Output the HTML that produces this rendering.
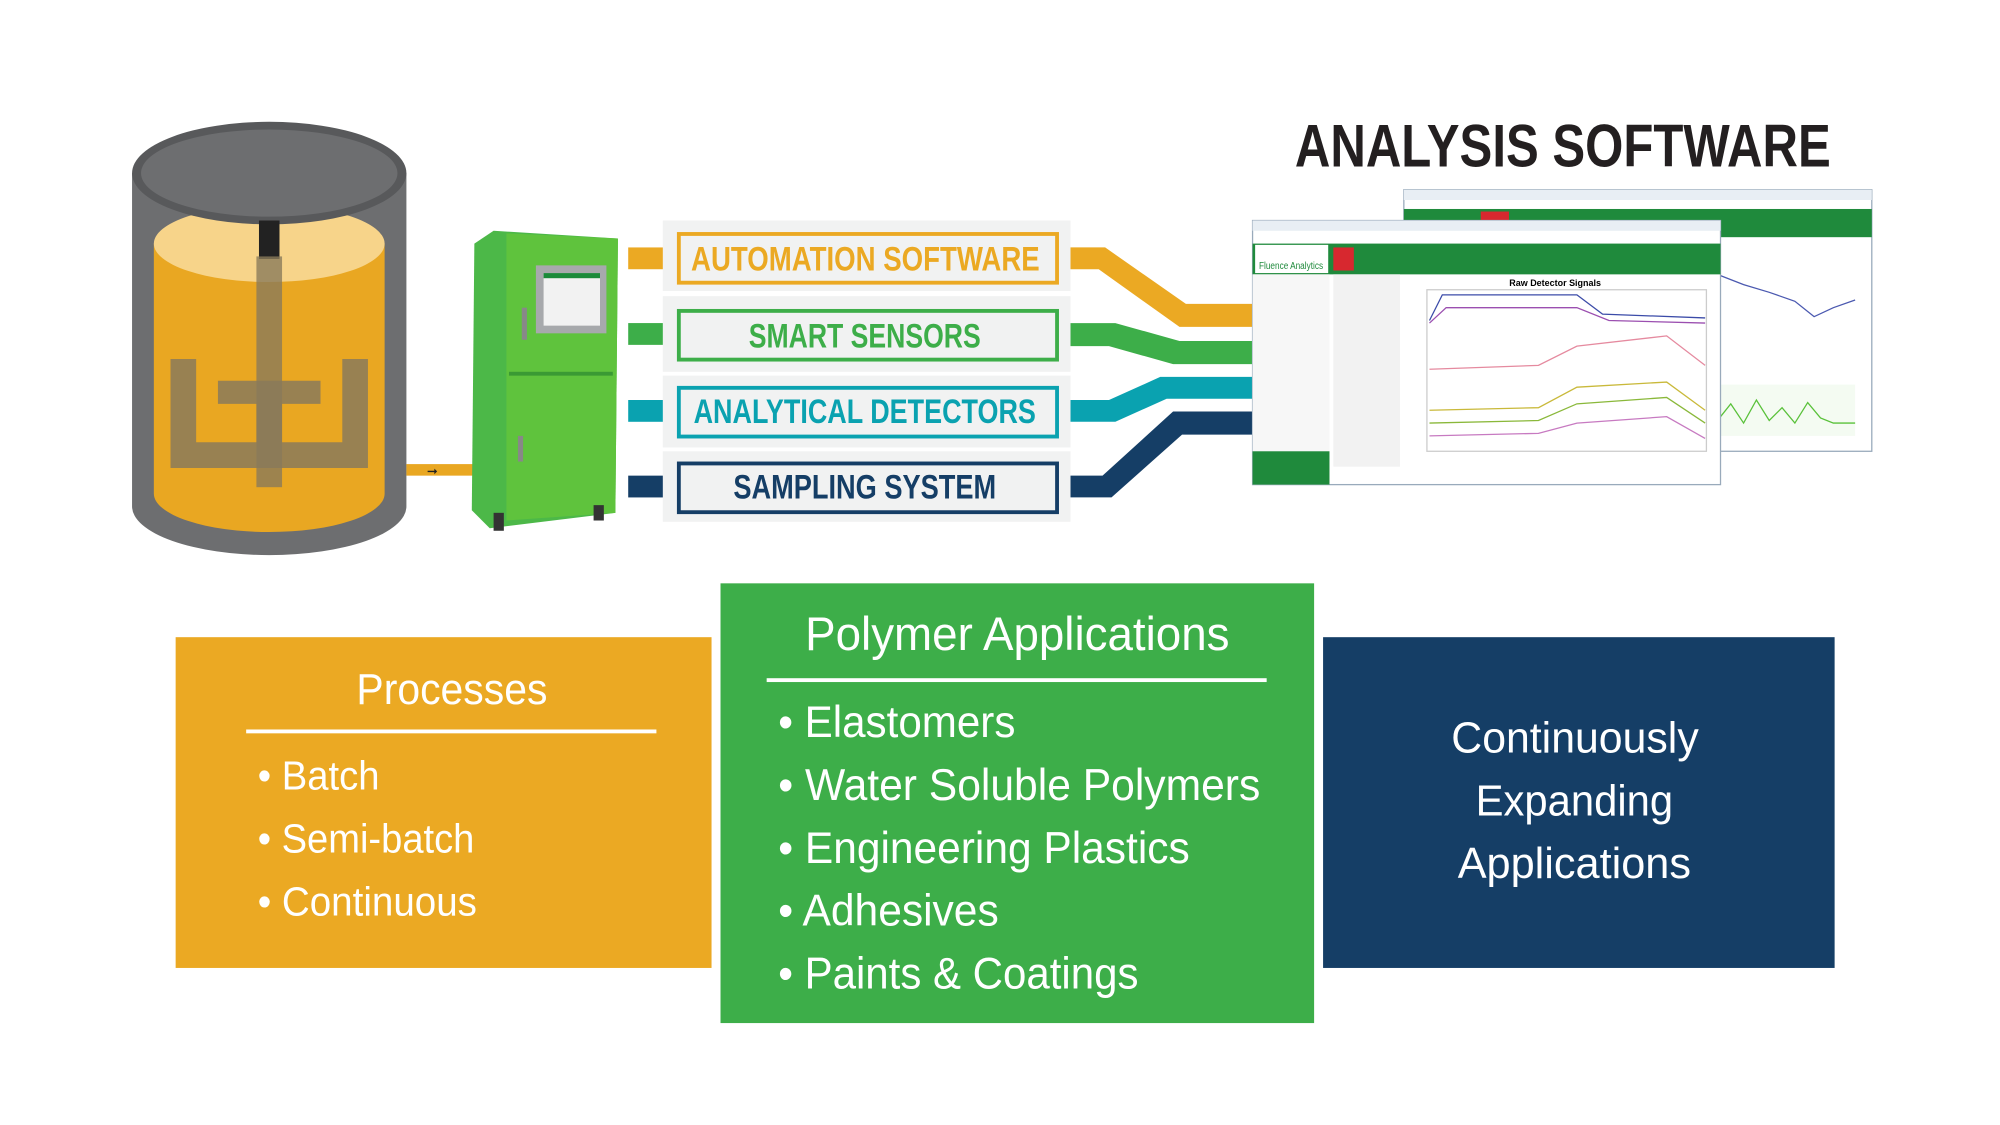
<!DOCTYPE html>
<html><head><meta charset="utf-8"><style>
html,body{margin:0;padding:0;background:#fff;}
svg{display:block;}
text{font-family:"Liberation Sans Narrow","Liberation Sans",sans-serif;}
</style></head><body>
<svg width="2000" height="1125" viewBox="0 0 1560 877.5" xmlns="http://www.w3.org/2000/svg">
<rect width="1560" height="877.5" fill="#fff"/>
<!-- Tank -->
<path d="M103,135 L103,395 A107,38 0 0 0 317,395 L317,135 Z" fill="#6d6e70"/>
<path d="M120,190 L120,385 A90,30 0 0 0 300,385 L300,190 Z" fill="#e9a722"/>
<ellipse cx="210" cy="190" rx="90" ry="30" fill="#f7d48a"/>
<ellipse cx="210" cy="135" rx="107" ry="40" fill="#58595b"/>
<ellipse cx="210" cy="135" rx="100" ry="34" fill="#6d6e70"/>
<rect x="202" y="172" width="16" height="30" fill="#222"/>
<rect x="200" y="200" width="20" height="180" fill="#8a7a5a" opacity="0.8"/>
<path d="M133,280 h20 v65 h47 v-30 h-30 v-18 h80 v18 h-30 v30 h47 v-65 h20 v85 h-154 z" fill="#8a7a5a" opacity="0.85"/>
<rect x="317" y="362" width="52" height="9" fill="#e9a722"/>
<text x="333" y="371" font-size="10" fill="#222">➞</text>
<!-- Cabinet -->
<path d="M370,190 L385,180 L482,186 L480,400 L382,412 L368,398 Z" fill="#4cb848"/>
<path d="M395,182 L482,186 L480,400 L395,406 Z" fill="#5fc33d"/>
<rect x="397" y="290" width="81" height="3" fill="#3a9a34"/>
<rect x="418" y="207" width="55" height="53" fill="#a7a9ac"/>
<rect x="424" y="213" width="44" height="41" fill="#f2f2f2"/>
<rect x="424" y="213" width="44" height="4" fill="#1b8a3a"/>
<rect x="407" y="240" width="4" height="25" fill="#888"/>
<rect x="404" y="340" width="4" height="20" fill="#888"/>
<rect x="385" y="400" width="8" height="14" fill="#333"/>
<rect x="463" y="394" width="8" height="12" fill="#333"/>
<!-- label panel -->
<rect x="517" y="172" width="318" height="55" fill="#f1f2f2"/>
<rect x="517" y="231" width="318" height="59" fill="#f1f2f2"/>
<rect x="517" y="293" width="318" height="56" fill="#f1f2f2"/>
<rect x="517" y="352" width="318" height="55" fill="#f1f2f2"/>
<rect x="490" y="193" width="27" height="17" fill="#eba923"/>
<rect x="490" y="252" width="27" height="17" fill="#3dae49"/>
<rect x="490" y="312" width="27" height="17" fill="#0aa2b0"/>
<rect x="490" y="371" width="27" height="17" fill="#153e66"/>
<rect x="529.5" y="182.5" width="295" height="38" fill="none" stroke="#eba923" stroke-width="3"/>
<rect x="529.5" y="242.5" width="295" height="38" fill="none" stroke="#3dae49" stroke-width="3"/>
<rect x="529.5" y="302.5" width="295" height="38" fill="none" stroke="#0aa2b0" stroke-width="3"/>
<rect x="529.5" y="361.5" width="295" height="38" fill="none" stroke="#153e66" stroke-width="3"/>
<g font-size="27" font-weight="bold">
<text x="539" y="211" fill="#eba923" textLength="272" lengthAdjust="spacingAndGlyphs">AUTOMATION SOFTWARE</text>
<text x="584" y="271" fill="#3dae49" textLength="181" lengthAdjust="spacingAndGlyphs">SMART SENSORS</text>
<text x="541" y="330" fill="#0aa2b0" textLength="267" lengthAdjust="spacingAndGlyphs">ANALYTICAL DETECTORS</text>
<text x="572" y="389" fill="#153e66" textLength="205" lengthAdjust="spacingAndGlyphs">SAMPLING SYSTEM</text>
</g>
<!-- connectors -->
<path d="M835,193 L862,193 L925,237 L985,237 L985,255 L920,255 L857,210 L835,210 Z" fill="#eba923"/>
<path d="M835,252 L870,252 L920,266 L985,266 L985,284 L915,284 L865,270 L835,270 Z" fill="#3dae49"/>
<path d="M835,312 L865,312 L905,294 L985,294 L985,311 L910,311 L870,329 L835,329 Z" fill="#0aa2b0"/>
<path d="M835,371 L860,371 L915,321 L985,321 L985,339 L922,339 L867,388 L835,388 Z" fill="#153e66"/>
<!-- title -->
<text x="1010" y="130" font-size="47" font-weight="bold" fill="#231f20" textLength="418" lengthAdjust="spacingAndGlyphs">ANALYSIS SOFTWARE</text>
<!-- software back -->
<rect x="1095" y="148" width="365" height="204" fill="#fff" stroke="#9ab" stroke-width="1"/>
<rect x="1095" y="148" width="365" height="8" fill="#e8eef4"/>
<rect x="1095" y="163" width="365" height="22" fill="#1f8a3c"/>
<rect x="1155" y="165" width="22" height="18" fill="#d7282f"/>
<rect x="1342" y="215" width="108" height="40" fill="#fff"/>
<path d="M1342,215 L1360,222 L1380,228 L1400,235 L1415,247 L1430,240 L1447,234" stroke="#4b59b0" fill="none"/>
<rect x="1342" y="300" width="105" height="40" fill="#f4fbf2"/>
<path d="M1342,325 L1350,315 L1360,330 L1370,312 L1380,328 L1390,318 L1400,330 L1410,314 L1420,326 L1430,330 L1447,330" stroke="#59c13a" fill="none"/>
<!-- software front -->
<rect x="977" y="172" width="365" height="206" fill="#fff" stroke="#9ab" stroke-width="1"/>
<rect x="977" y="172" width="365" height="8" fill="#e8eef4"/>
<rect x="977" y="190" width="365" height="24" fill="#1f8a3c"/>
<rect x="979" y="191" width="57" height="22" fill="#fff"/>
<text x="982" y="210" font-size="8" fill="#1f8a3c" textLength="50" lengthAdjust="spacingAndGlyphs">Fluence Analytics</text>
<rect x="1040" y="193" width="16" height="18" fill="#d7282f"/>
<rect x="977" y="214" width="60" height="164" fill="#f7f7f7"/>
<rect x="977" y="352" width="60" height="26" fill="#1f8a3c"/>
<rect x="1040" y="214" width="52" height="150" fill="#f2f2f2"/>
<text x="1213" y="223" font-size="7" font-weight="bold" text-anchor="middle" fill="#000">Raw Detector Signals</text>
<rect x="1113" y="226" width="218" height="126" fill="#fff" stroke="#ccc"/>
<path d="M1115,250 L1125,230 L1230,230 L1250,245 L1330,248" stroke="#3b4ba8" fill="none"/>
<path d="M1115,252 L1128,240 L1230,240 L1255,250 L1330,252" stroke="#9b4fb0" fill="none"/>
<path d="M1115,288 L1200,285 L1230,270 L1300,262 L1330,285" stroke="#e58a9f" fill="none"/>
<path d="M1115,320 L1200,318 L1230,302 L1300,298 L1330,320" stroke="#c9b93a" fill="none"/>
<path d="M1115,330 L1200,328 L1230,315 L1300,310 L1330,330" stroke="#8ab83a" fill="none"/>
<path d="M1115,340 L1200,338 L1230,330 L1300,325 L1330,342" stroke="#c77ac1" fill="none"/>
<!-- bottom boxes -->
<rect x="137" y="497" width="418" height="258" fill="#eba923"/>
<rect x="562" y="455" width="463" height="343" fill="#3dae49"/>
<rect x="1032" y="497" width="399" height="258" fill="#153e66"/>
<g fill="#fff">
<text x="278" y="549" font-size="34" textLength="149" lengthAdjust="spacingAndGlyphs">Processes</text>
<rect x="192" y="569" width="320" height="3"/>
<g font-size="32">
<text x="201" y="616" textLength="95" lengthAdjust="spacingAndGlyphs">• Batch</text>
<text x="201" y="665" textLength="169" lengthAdjust="spacingAndGlyphs">• Semi-batch</text>
<text x="201" y="714" textLength="171" lengthAdjust="spacingAndGlyphs">• Continuous</text></g>
<text x="628" y="507" font-size="37" textLength="331" lengthAdjust="spacingAndGlyphs">Polymer Applications</text>
<rect x="598" y="529" width="390" height="3"/>
<g font-size="35">
<text x="607" y="575" textLength="185" lengthAdjust="spacingAndGlyphs">• Elastomers</text>
<text x="607" y="624" textLength="376" lengthAdjust="spacingAndGlyphs">• Water Soluble Polymers</text>
<text x="607" y="673" textLength="321" lengthAdjust="spacingAndGlyphs">• Engineering Plastics</text>
<text x="607" y="722" textLength="172" lengthAdjust="spacingAndGlyphs">• Adhesives</text>
<text x="607" y="771" textLength="281" lengthAdjust="spacingAndGlyphs">• Paints &amp; Coatings</text></g>
<g font-size="34">
<text x="1132" y="587" textLength="193" lengthAdjust="spacingAndGlyphs">Continuously</text>
<text x="1151" y="636" textLength="154" lengthAdjust="spacingAndGlyphs">Expanding</text>
<text x="1137" y="685" textLength="182" lengthAdjust="spacingAndGlyphs">Applications</text></g>
</g>
</svg>
</body></html>
